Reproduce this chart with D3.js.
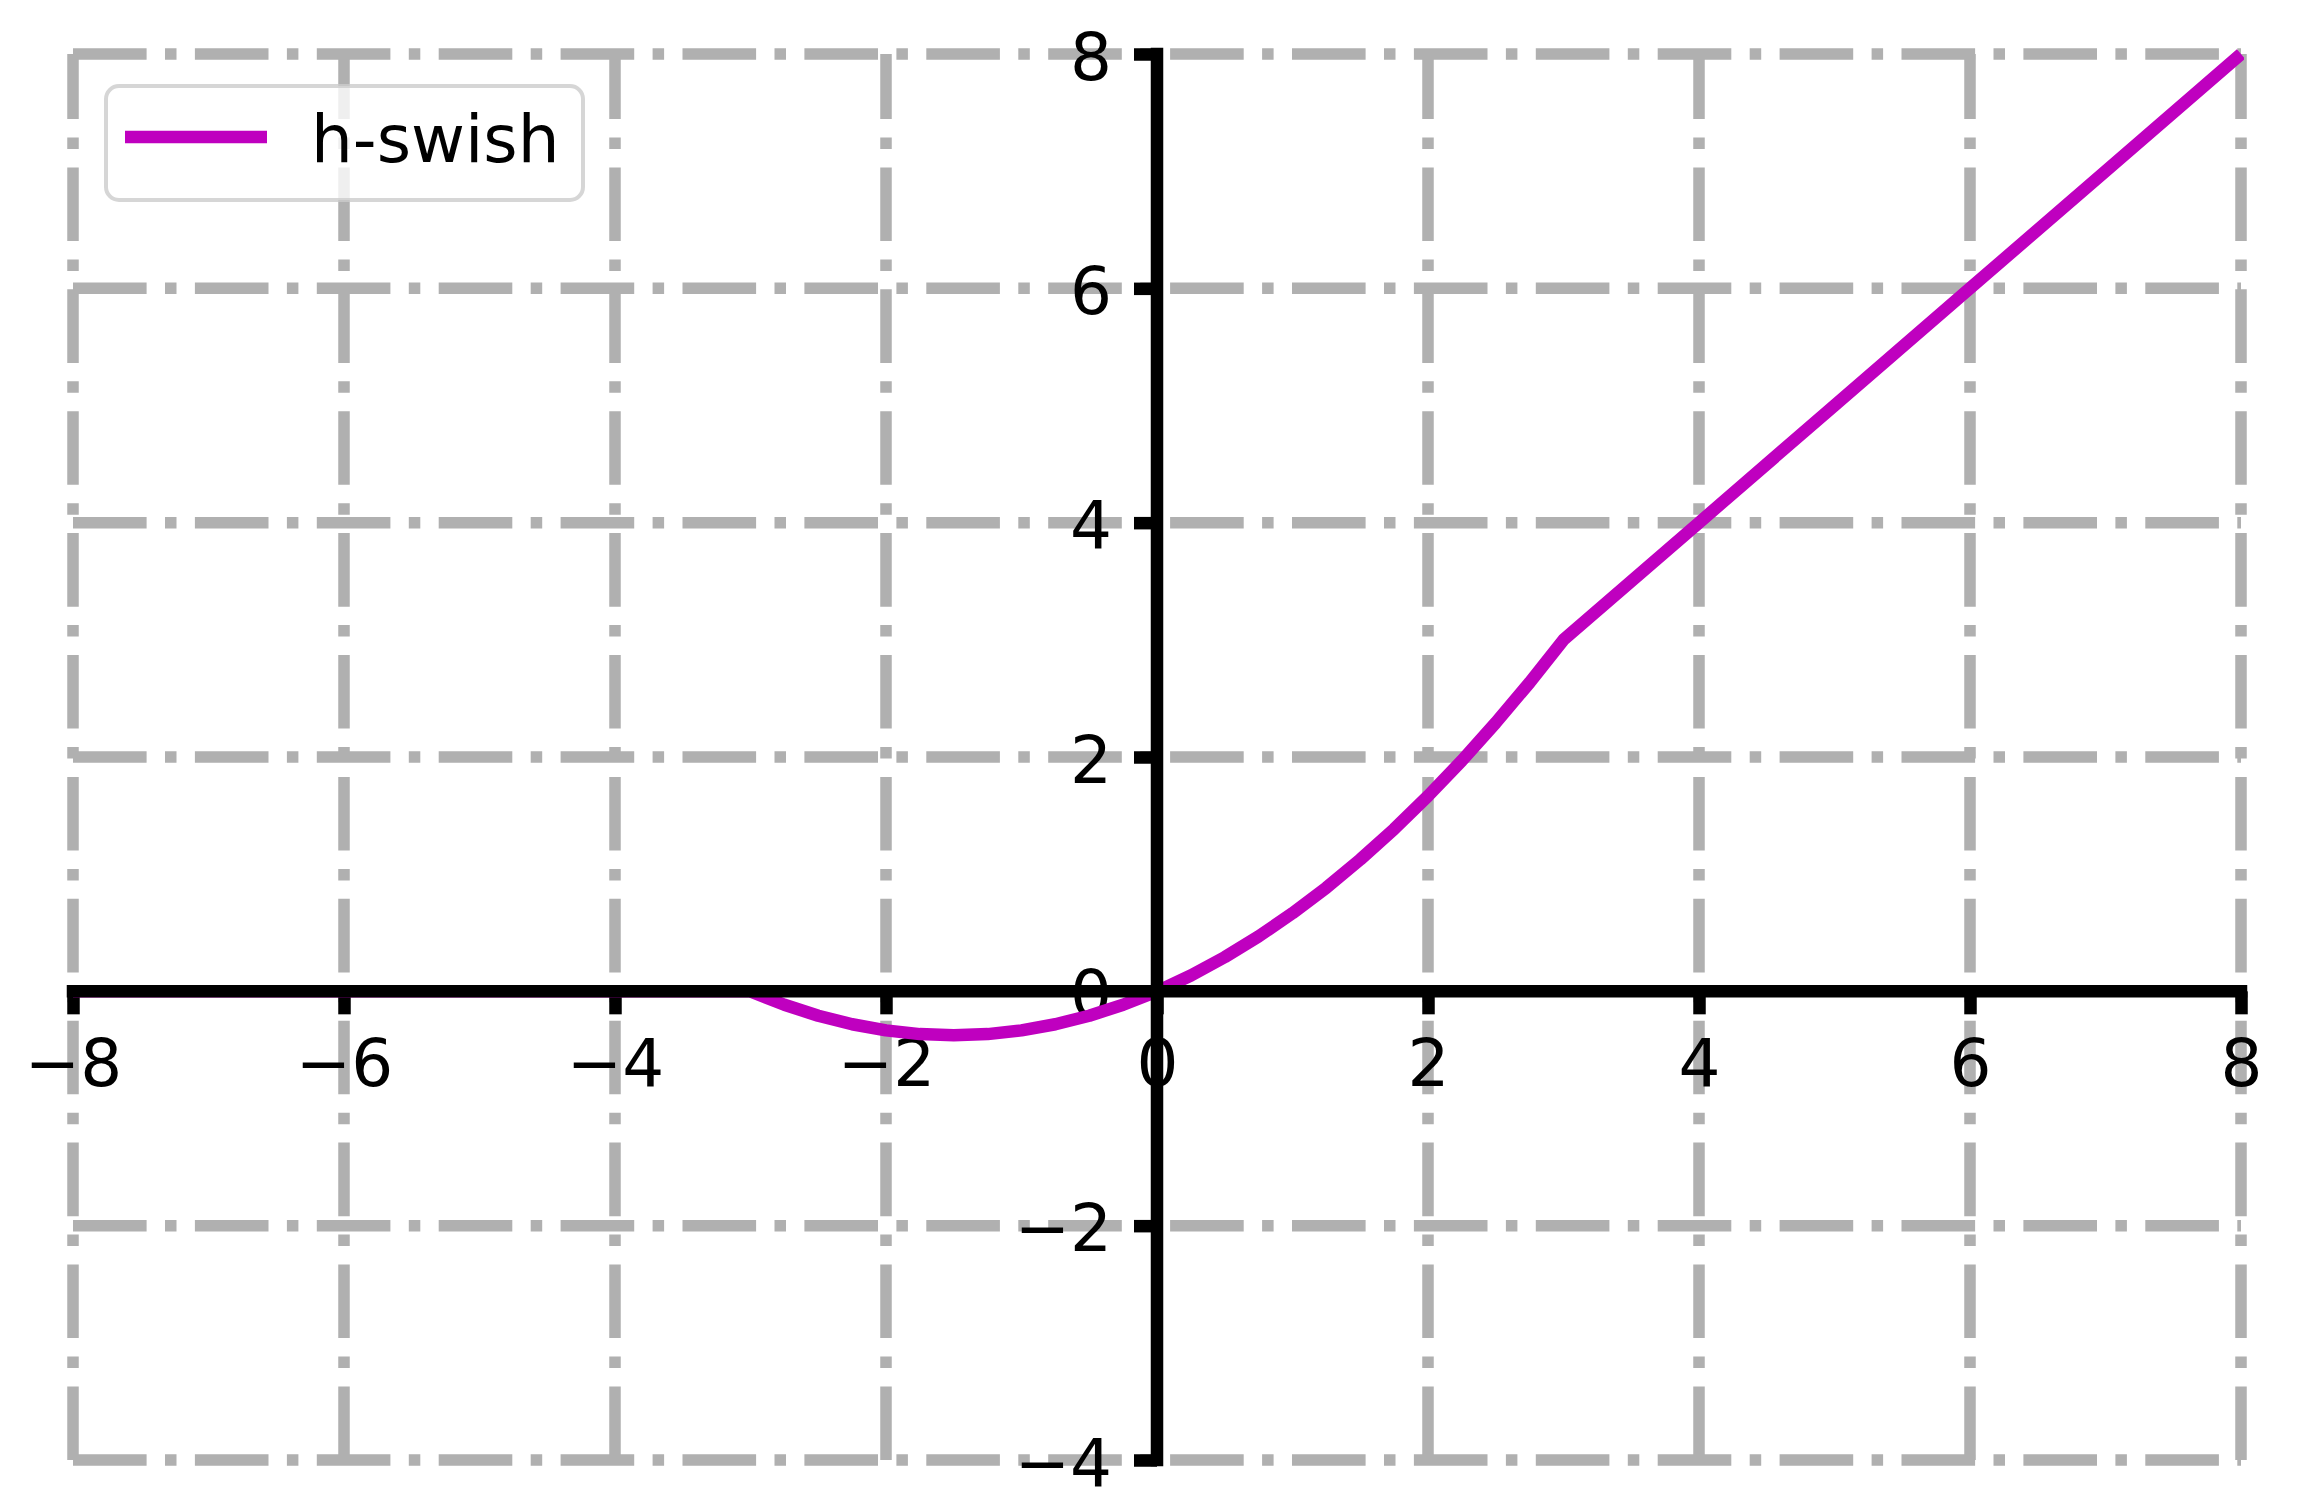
<html>
<head><meta charset="utf-8"></head>
<script src='https://d3js.org/d3.v7.min.js'></script>
<style>
body {margin: 0; background: white;}
text {font-family: 'DejaVu Sans', sans-serif;}
</style>
<body onload='init()'>
<svg width=2300 height=1508></svg>
<script>
// h-swish values
var xs = [-8, -6, -4, -3, -2.75, -2.5, -2.25, -2, -1.75, -1.5, -1.25, -1, -0.75, -0.5, -0.25, 0,
          0.25, 0.5, 0.75, 1, 1.25, 1.5, 1.75, 2, 2.25, 2.5, 2.75, 3, 4, 5, 6, 7, 8];
var ys = [0, 0, 0, 0, -0.115, -0.208, -0.281, -0.333, -0.365, -0.375, -0.365, -0.333, -0.281, -0.208, -0.115, 0,
          0.135, 0.292, 0.469, 0.667, 0.885, 1.125, 1.385, 1.667, 1.969, 2.292, 2.635, 3, 4, 5, 6, 7, 8];
var xTicks = [-8, -6, -4, -2, 0, 2, 4, 6, 8];
var yTicks = [-4, -2, 0, 2, 4, 6, 8];
var seriesName = "h-swish";
var seriesColor = "#bf00bf";

function init() {
  var svg = d3.select('svg');
  var xScale = d3.scaleLinear().domain([-8, 8]).range([73, 2241]);
  var yScale = d3.scaleLinear().domain([-4, 8]).range([1460, 54]);
  var fontSize = 66;
  var lw = 12.5;

  // grid, dash-dot
  var grid = svg.append('g')
    .attr('stroke', '#b0b0b0')
    .attr('stroke-width', 11.5)
    .attr('stroke-dasharray', '73.6,18.4,11.5,18.4')
    .attr('fill', 'none');
  grid.selectAll('.vg').data(xTicks).enter().append('line')
    .attr('x1', d => xScale(d)).attr('x2', d => xScale(d))
    .attr('y1', yScale(-4)).attr('y2', yScale(8));
  grid.selectAll('.hg').data(yTicks).enter().append('line')
    .attr('y1', d => yScale(d)).attr('y2', d => yScale(d))
    .attr('x1', xScale(-8)).attr('x2', xScale(8));

  // axes (ticks + labels)
  var xAxis = svg.append('g')
    .attr('transform', 'translate(0,' + yScale(0) + ')')
    .call(d3.axisBottom(xScale).tickValues(xTicks).tickSize(23).tickPadding(25).tickSizeOuter(0));
  var yAxis = svg.append('g')
    .attr('transform', 'translate(' + xScale(0) + ',0)')
    .call(d3.axisLeft(yScale).tickValues(yTicks).tickSize(23).tickPadding(22).tickSizeOuter(0));
  [xAxis, yAxis].forEach(function(a) {
    a.select('.domain').remove();
    a.attr('font-size', fontSize).attr('font-family', "'DejaVu Sans', sans-serif");
    a.selectAll('.tick line').attr('stroke', 'black').attr('stroke-width', lw);
    a.selectAll('.tick text').attr('fill', 'black');
  });
  yAxis.selectAll('.tick text').attr('dy', '0.38em');

  // curve
  svg.append('clipPath').attr('id', 'clip')
    .append('rect').attr('x', 60).attr('y', 49).attr('width', 2184).attr('height', 1430);
  var pts = xs.map((x, i) => [x, ys[i]]);
  var line = d3.line().x(d => xScale(d[0])).y(d => yScale(d[1]));
  svg.append('path')
    .datum(pts)
    .attr('clip-path', 'url(#clip)')
    .attr('d', line)
    .attr('fill', 'none')
    .attr('stroke', seriesColor)
    .attr('stroke-width', lw)
    .attr('stroke-linejoin', 'round');

  // spines through origin
  svg.append('line')
    .attr('x1', xScale(-8)).attr('x2', xScale(8))
    .attr('y1', yScale(0)).attr('y2', yScale(0))
    .attr('stroke', 'black').attr('stroke-width', lw).attr('stroke-linecap', 'square');
  svg.append('line')
    .attr('x1', xScale(0)).attr('x2', xScale(0))
    .attr('y1', yScale(-4)).attr('y2', yScale(8))
    .attr('stroke', 'black').attr('stroke-width', lw).attr('stroke-linecap', 'square');

  // legend
  var leg = svg.append('g');
  leg.append('rect')
    .attr('x', 106).attr('y', 86).attr('width', 477).attr('height', 114)
    .attr('rx', 13).attr('ry', 13)
    .attr('fill', 'white').attr('fill-opacity', 0.8)
    .attr('stroke', '#cccccc').attr('stroke-opacity', 0.8).attr('stroke-width', 4);
  leg.append('line')
    .attr('x1', 125).attr('x2', 267).attr('y1', 137).attr('y2', 137)
    .attr('stroke', seriesColor).attr('stroke-width', lw);
  leg.append('text')
    .attr('x', 311).attr('y', 162)
    .attr('font-size', fontSize)
    .text(seriesName);
}
</script>
</body>
</html>
